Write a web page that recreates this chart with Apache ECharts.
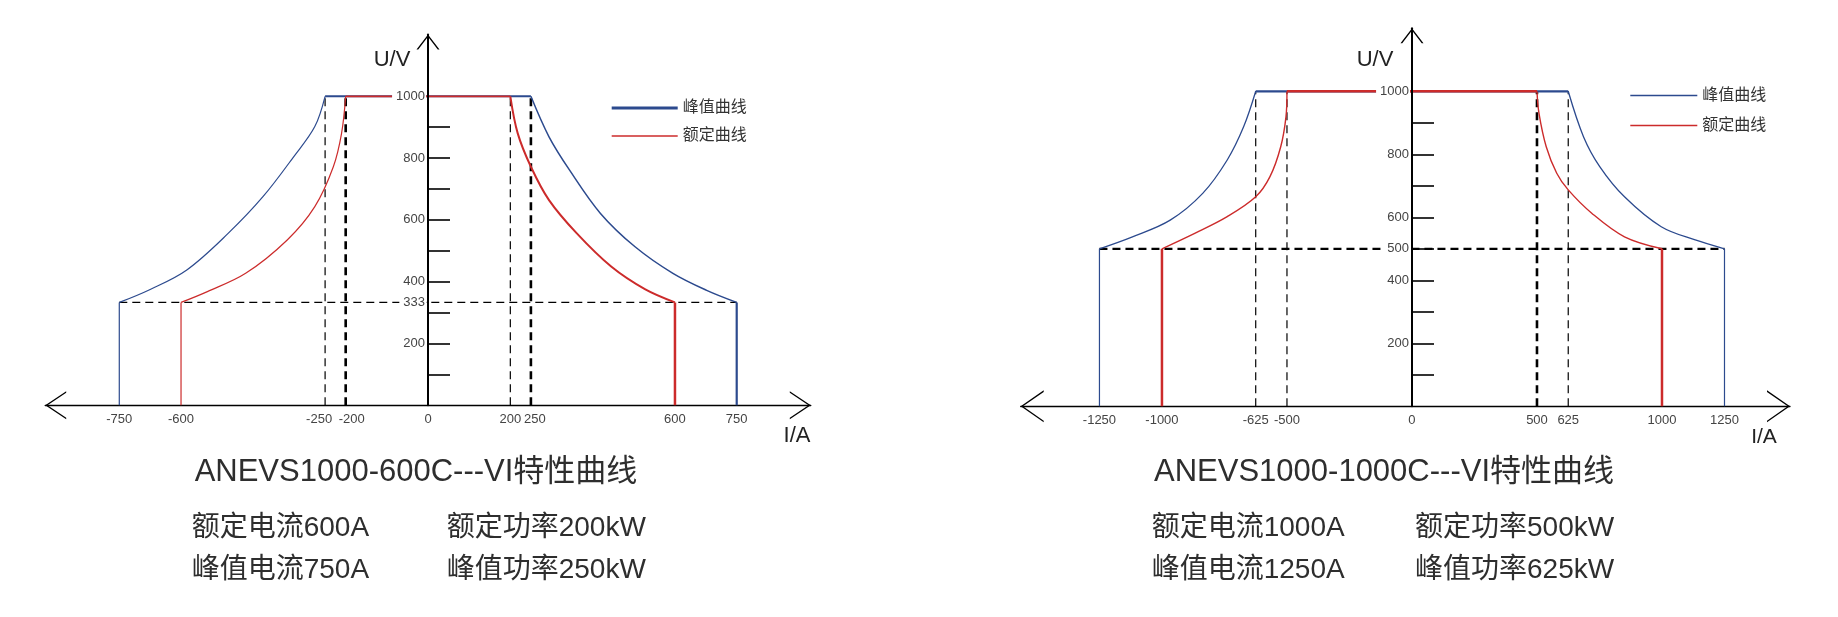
<!DOCTYPE html>
<html><head><meta charset="utf-8">
<script src="https://cdn.jsdelivr.net/npm/echarts@6/dist/echarts.min.js"></script>
<style>html,body{margin:0;padding:0;background:#fff}#c{width:1838px;height:617px}</style>
</head><body><div id="c"></div>
<script>
// ===== Model A: ANEVS1000-600C =====
const aTitle = 'ANEVS1000-600C---VI特性曲线';
const aSpecs = ['额定电流600A', '额定功率200kW', '峰值电流750A', '峰值功率250kW'];
const aXLabels = [-750, -600, -250, -200, 0, 200, 250, 600, 750];
const aYLabels = [200, 333, 400, 600, 800, 1000];
const aYTicks = [100, 200, 300, 400, 500, 600, 700, 800, 900];
const aRatedI = 600, aPeakI = 750, aRatedKneeI = 200, aPeakKneeI = 250, aMinU = 333, aMaxU = 1000;
const aPeakCurveL = [[-750, 333], [-675, 375], [-586, 438], [-485, 557], [-401, 675], [-326, 805], [-275, 902], [-250, 1000]];
const aPeakCurveR = [[250, 1000], [294, 869], [344, 761], [419, 621], [503, 513], [595, 427], [677, 372], [750, 333]];
const aRatedCurveL = [[-600, 333], [-536, 368], [-443, 427], [-342, 535], [-275, 643], [-230, 772], [-210, 880], [-200, 1000]];
const aRatedCurveR = [[200, 1000], [218, 880], [250, 772], [294, 664], [361, 557], [445, 449], [528, 375], [600, 333]];
const aDashX = [-250, -200, 200, 250];

// ===== Model B: ANEVS1000-1000C =====
const bTitle = 'ANEVS1000-1000C---VI特性曲线';
const bSpecs = ['额定电流1000A', '额定功率500kW', '峰值电流1250A', '峰值功率625kW'];
const bXLabels = [-1250, -1000, -625, -500, 0, 500, 625, 1000, 1250];
const bYLabels = [200, 400, 500, 600, 800, 1000];
const bYTicks = [100, 200, 300, 400, 500, 600, 700, 800, 900];
const bRatedI = 1000, bPeakI = 1250, bRatedKneeI = 500, bPeakKneeI = 625, bMinU = 500, bMaxU = 1000;
const bPeakCurveL = [[-1250, 500], [-1118, 538], [-967, 591], [-837, 676], [-739, 782], [-673, 888], [-625, 1000]];
const bPeakCurveR = [[625, 1000], [686, 856], [751, 761], [850, 665], [997, 570], [1133, 528], [1250, 500]];
const bRatedCurveL = [[-1000, 500], [-869, 549], [-739, 602], [-625, 665], [-568, 729], [-525, 824], [-504, 919], [-500, 1000]];
const bRatedCurveR = [[500, 1000], [508, 930], [537, 824], [579, 740], [625, 687], [719, 613], [850, 538], [1000, 500]];
const bDashX = [-625, -500, 500, 625];

const seriesNames = ['峰值曲线', '额定曲线'];

// ===== styles =====
const BLUE = '#2c4a8e', RED = '#cc2b2b';
const FONT = "'Liberation Sans', 'Noto Sans CJK SC', sans-serif";
const aDashW = [1.2, 2.6, 1.2, 2.6];
const bDashW = [1.2, 1.2, 2.6, 1.2];

function chev(w, h, t) {
  const ang = Math.atan2(h, w / 2);
  const s = t / Math.cos(ang);
  const dx = (w / 2) * (h - s) / h;
  const c = w / 2;
  return 'path://M0,' + h + ' L' + c + ',0 L' + w + ',' + h + ' L' + (c + dx) + ',' + h +
    ' L' + c + ',' + s + ' L' + (c - dx) + ',' + h + ' Z';
}
function bar(w, t) { return 'path://M0,0 L' + w + ',0 L' + w + ',' + t + ' L0,' + t + ' Z'; }

function line(gi, data, color, width, opts) {
  return Object.assign({
    type: 'line', xAxisIndex: gi, yAxisIndex: gi, data: data, symbol: 'none', showSymbol: false,
    lineStyle: { color: color, width: width }, itemStyle: { color: color },
    silent: true, animation: false, z: 2
  }, opts || {});
}
function dashed(gi, data, width) {
  return line(gi, data, '#000', width, { lineStyle: { color: '#000', width: width, type: [8, 5] }, z: 1 });
}
const curveOpt = (name, z) => ({ name: name, smooth: 0.35, z: z });

const series = [];
// ---- chart A ----
aDashX.forEach((x, i) => series.push(dashed(0, [[x, 0], [x, aMaxU]], aDashW[i])));
series.push(dashed(0, [[-aPeakI, aMinU], [aPeakI, aMinU]], 1.2));
series.push(line(0, [[-aPeakI, 0], [-aPeakI, aMinU]], BLUE, 1.2, { name: seriesNames[0] }));
series.push(line(0, aPeakCurveL, BLUE, 1.2, curveOpt(seriesNames[0], 2)));
series.push(line(0, [[-aPeakKneeI, aMaxU], [aPeakKneeI, aMaxU]], BLUE, 2, { name: seriesNames[0] }));
series.push(line(0, aPeakCurveR, BLUE, 1.5, curveOpt(seriesNames[0], 2)));
series.push(line(0, [[aPeakI, aMinU], [aPeakI, 0]], BLUE, 2.2, { name: seriesNames[0] }));
series.push(line(0, [[-aRatedI, 0], [-aRatedI, aMinU]], RED, 1.2, { name: seriesNames[1], z: 3 }));
series.push(line(0, aRatedCurveL, RED, 1.2, curveOpt(seriesNames[1], 3)));
series.push(line(0, [[-aRatedKneeI, aMaxU], [aRatedKneeI, aMaxU]], RED, 1.8, { name: seriesNames[1], z: 3 }));
series.push(line(0, aRatedCurveR, RED, 2, curveOpt(seriesNames[1], 3)));
series.push(line(0, [[aRatedI, aMinU], [aRatedI, 0]], RED, 2.5, { name: seriesNames[1], z: 3 }));
// ---- chart B ----
bDashX.forEach((x, i) => series.push(dashed(1, [[x, 0], [x, bMaxU]], bDashW[i])));
series.push(dashed(1, [[-bPeakI, bMinU], [bPeakI, bMinU]], 2.2));
series.push(line(1, [[-bPeakI, 0], [-bPeakI, bMinU]], BLUE, 1.2, { name: seriesNames[0] }));
series.push(line(1, bPeakCurveL, BLUE, 1.3, curveOpt(seriesNames[0], 2)));
series.push(line(1, [[-bPeakKneeI, bMaxU], [bPeakKneeI, bMaxU]], BLUE, 2.2, { name: seriesNames[0] }));
series.push(line(1, bPeakCurveR, BLUE, 1.3, curveOpt(seriesNames[0], 2)));
series.push(line(1, [[bPeakI, bMinU], [bPeakI, 0]], BLUE, 1.2, { name: seriesNames[0] }));
series.push(line(1, [[-bRatedI, 0], [-bRatedI, bMinU]], RED, 2.5, { name: seriesNames[1], z: 3 }));
series.push(line(1, bRatedCurveL, RED, 1.4, curveOpt(seriesNames[1], 3)));
series.push(line(1, [[-bRatedKneeI, bMaxU], [bRatedKneeI, bMaxU]], RED, 2.5, { name: seriesNames[1], z: 3 }));
series.push(line(1, bRatedCurveR, RED, 1.4, curveOpt(seriesNames[1], 3)));
series.push(line(1, [[bRatedI, bMinU], [bRatedI, 0]], RED, 2.5, { name: seriesNames[1], z: 3 }));

// x-label nudges for crowded labels (style only)
const aNudge = { '-250': 'L', '-200': 'R', '250': 'r' };
const labelRich = {
  L: { padding: [0, 12, 0, 0], fontSize: 13, color: '#444', fontFamily: FONT },
  R: { padding: [0, 0, 0, 12], fontSize: 13, color: '#444', fontFamily: FONT },
  r: { padding: [0, 0, 0, 8], fontSize: 13, color: '#444', fontFamily: FONT }
};

function xAxis(gi, min, max, labels, arrow, arrowSize, nudge) {
  return {
    gridIndex: gi, type: 'value', min: min, max: max,
    axisLine: { onZero: false, lineStyle: { color: '#000', width: 1.3 },
      symbol: [arrow, arrow], symbolSize: arrowSize, symbolOffset: [arrowSize[1] / 2, -arrowSize[1] / 2] },
    axisTick: { show: false }, splitLine: { show: false },
    axisLabel: { customValues: labels, color: '#444', fontSize: 13, fontFamily: FONT, margin: 8, hideOverlap: false,
      formatter: (v) => (nudge && nudge[String(v)] ? '{' + nudge[String(v)] + '|' + v + '}' : String(v)),
      rich: labelRich }
  };
}
function yAxis(gi, labels, ticks, shift) {
  const ySym = chev(23, 15, 1.4);
  return {
    gridIndex: gi, type: 'value', min: 0, max: 1200, z: 5, position: 'left', offset: -shift,
    axisLine: { onZero: false, lineStyle: { color: '#000', width: 2 },
      symbol: ['none', ySym], symbolSize: [23, 15], symbolOffset: [0, -7.5] },
    axisTick: { show: true, customValues: ticks, inside: true, length: 22, lineStyle: { color: '#000', width: 1.6 } },
    splitLine: { show: false },
    axisLabel: { customValues: labels, color: '#444', fontSize: 13, fontFamily: FONT, margin: 2,
      formatter: (v) => String(v), backgroundColor: '#fff', padding: [1, 1, 1, 4] }
  };
}

function txt(x, y, text, size, align, color) {
  return { type: 'text', x: x, y: y, silent: true, z: 10,
    style: { text: text, fontSize: size, fontFamily: FONT, fill: color || '#2e2e2e',
      align: align, verticalAlign: 'middle', textAlign: align, textVerticalAlign: 'middle' } };
}

const option = {
  animation: false,
  backgroundColor: '#fff',
  grid: [
    { left: 45.2, right: 1027.2, top: 34.5, bottom: 211.7, containLabel: false, outerBoundsMode: 'none' },
    { left: 1020.7, right: 48, top: 28.3, bottom: 210.7, containLabel: false, outerBoundsMode: 'none' }
  ],
  xAxis: [
    xAxis(0, -930, 930, aXLabels, chev(28, 21, 1.3), [28, 21], aNudge),
    xAxis(1, -1565, 1512, bXLabels, chev(32, 23, 1.3), [32, 23], null)
  ],
  yAxis: [yAxis(0, aYLabels, aYTicks, 428 - 45.2), yAxis(1, bYLabels, bYTicks, 1412 - 1020.7)],
  legend: [
    { orient: 'vertical', left: 606.7, top: 95, itemWidth: 66, itemHeight: 14, itemGap: 12, selectedMode: false,
      textStyle: { fontSize: 16, color: '#333', fontFamily: FONT },
      data: [{ name: seriesNames[0], icon: bar(66, 3) }, { name: seriesNames[1], icon: bar(66, 1.5) }] },
    { orient: 'vertical', left: 1625.3, top: 82.5, itemWidth: 67, itemHeight: 14, itemGap: 14, selectedMode: false,
      textStyle: { fontSize: 16, color: '#333', fontFamily: FONT },
      data: [{ name: seriesNames[0], icon: bar(67, 1.5) }, { name: seriesNames[1], icon: bar(67, 1.5) }] }
  ],
  graphic: [
    txt(392, 60, 'U/V', 22, 'center', '#222'),
    txt(797, 436, 'I/A', 22, 'center', '#222'),
    txt(1375, 60, 'U/V', 22, 'center', '#222'),
    txt(1764, 437, 'I/A', 21, 'center', '#222'),
    txt(416, 472, aTitle, 31, 'center'),
    txt(191.7, 528.3, aSpecs[0], 28, 'left'),
    txt(446.7, 528.3, aSpecs[1], 28, 'left'),
    txt(191.7, 570, aSpecs[2], 28, 'left'),
    txt(446.7, 570, aSpecs[3], 28, 'left'),
    txt(1384, 472, bTitle, 31, 'center'),
    txt(1151.7, 528.3, bSpecs[0], 28, 'left'),
    txt(1415, 528.3, bSpecs[1], 28, 'left'),
    txt(1151.7, 570, bSpecs[2], 28, 'left'),
    txt(1415, 570, bSpecs[3], 28, 'left')
  ],
  series: series
};

const chart = echarts.init(document.getElementById('c'), null, { renderer: 'canvas' });
chart.setOption(option);
</script>
</body></html>
